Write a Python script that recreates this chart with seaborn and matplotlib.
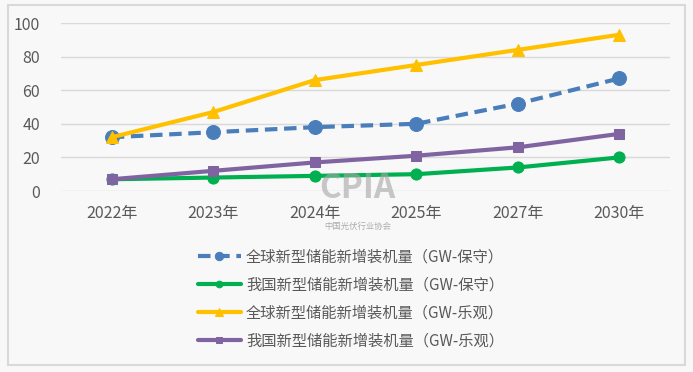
import pandas as pd
import seaborn as sns
import matplotlib.pyplot as plt
from matplotlib.patches import Rectangle

# data
years = ['2022年', '2023年', '2024年', '2025年', '2027年', '2030年']
global_cons = [32, 35, 38, 40, 52, 67]
china_cons = [7, 8, 9, 10, 14, 20]
global_opt = [32, 47, 66, 75, 84, 93]
china_opt = [7, 12, 17, 21, 26, 34]

names = ['全球新型储能新增装机量（GW-保守）', '我国新型储能新增装机量（GW-保守）',
         '全球新型储能新增装机量（GW-乐观）', '我国新型储能新增装机量（GW-乐观）']

sns.set_style('white')
plt.rcParams['font.family'] = ['Noto Sans CJK SC', 'DejaVu Sans']

bg = '#f8f8f8'
txt = '#595959'

fig = plt.figure(figsize=(6.93, 3.72), dpi=100, facecolor=bg)
fig.patches.append(Rectangle((8 / 693, 1 - 365 / 372), 677 / 693, 360 / 372,
                             transform=fig.transFigure, fill=False,
                             edgecolor='#d9d9d9', linewidth=1.5))
ax = fig.add_axes([61 / 693, 1 - 191 / 372, 609 / 693, 168 / 372])
ax.set_facecolor(bg)

styles = [
    (global_cons, '#4a7ebb', 'o', 10, (0, (3, 1.6))),
    (china_cons, '#00b050', 'o', 8, '-'),
    (global_opt, '#ffc000', '^', 9, '-'),
    (china_opt, '#8064a2', 's', 7.5, '-'),
]

for (vals, color, marker, ms, ls), name in zip(styles, names):
    df = pd.DataFrame({'year': years, 'value': vals})
    sns.lineplot(data=df, x='year', y='value', ax=ax, color=color, marker=marker,
                 markersize=ms, markeredgecolor=color, linewidth=3,
                 linestyle=ls, label=name, sort=False, zorder=3)

ax.set_ylim(0, 100)
ax.set_yticks(range(0, 101, 20))
ax.set_xlim(-0.5, 5.5)
ax.yaxis.grid(True, color='#d9d9d9', linewidth=1)
ax.set_axisbelow(True)
for s in ax.spines.values():
    s.set_visible(False)
ax.set_xlabel('')
ax.set_ylabel('')
ax.tick_params(axis='both', length=0, labelsize=11.5, colors=txt)
ax.tick_params(axis='x', pad=10)
ax.tick_params(axis='y', pad=15)

# watermark
fig.text(0.516, 1 - 172 / 372, 'CPIA', fontsize=24, fontweight='bold',
         fontstretch='condensed', color='#a6a6a6', alpha=0.6,
         ha='center', va='top', zorder=1)
fig.text(0.516, 1 - 222 / 372, '中国光伏行业协会', fontsize=6,
         color='#8c8c8c', alpha=0.7, ha='center', va='top', zorder=1)

leg = ax.legend(loc='upper left', bbox_to_anchor=(184 / 693, 1 - 235 / 372),
                bbox_transform=fig.transFigure, frameon=False, fontsize=11,
                labelcolor=txt, handlelength=2.8, handletextpad=0.35,
                labelspacing=0.72, markerscale=0.6)

fig.savefig('out.png', dpi=100, facecolor=bg)
